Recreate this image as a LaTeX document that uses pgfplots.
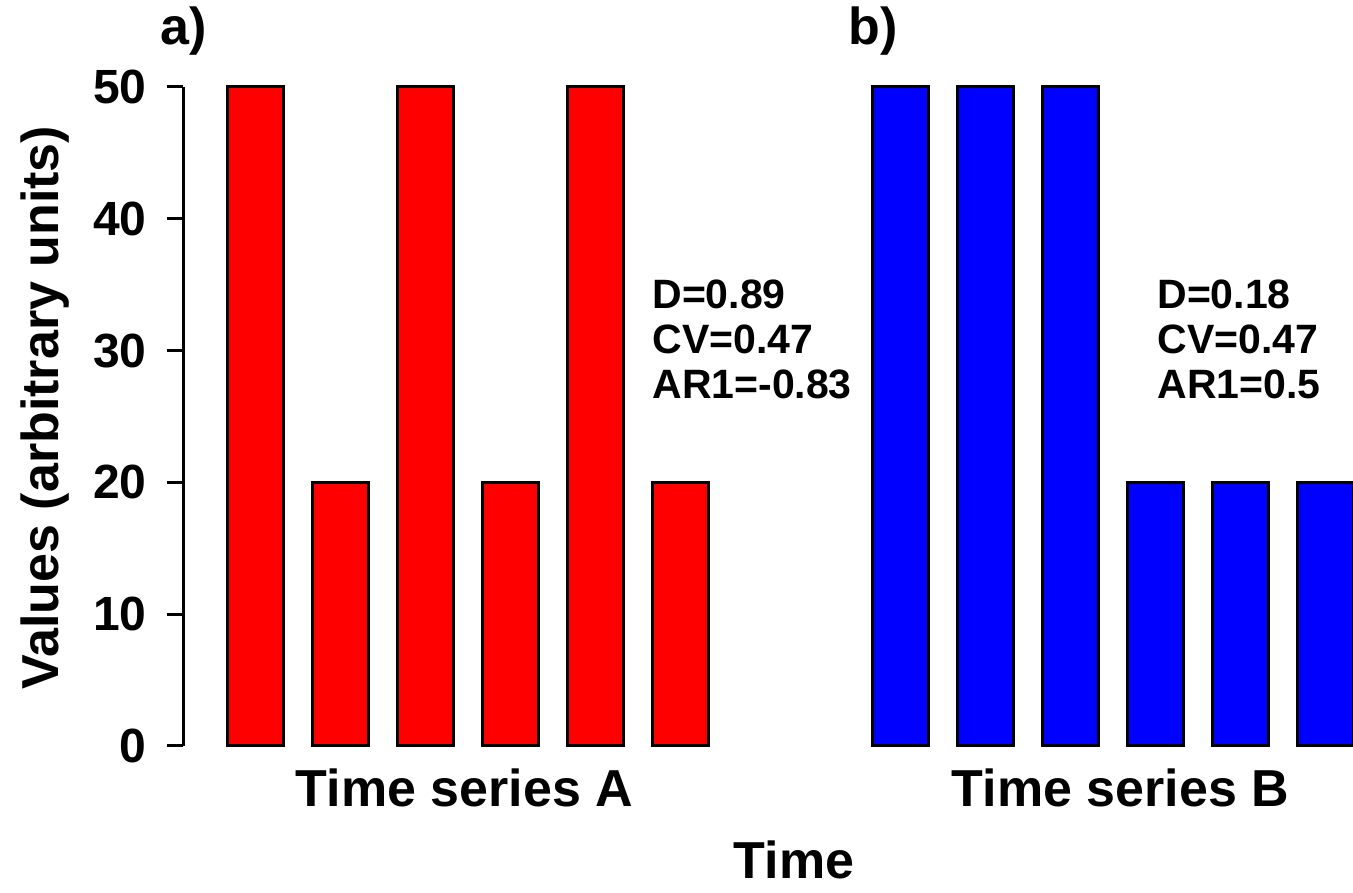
\documentclass[border=0pt]{standalone}
\usepackage{fontspec}
\setmainfont{Liberation Sans}
\usepackage{pgfplots}
\pgfplotsset{compat=1.18}
\definecolor{barred}{RGB}{255,0,0}
\definecolor{barblue}{RGB}{0,0,255}

% one pixel of the reference = 0.5pt
\pgfplotsset{
  tsbars/.style={
    x=28.333pt, y=6.59pt,
    xmin=-0.28, xmax=10, ymin=0, ymax=50,
    anchor=south west, clip=false,
    ybar, bar width=1,
  },
  barstyle/.style={fill=#1, draw=black, line width=1.5pt, line join=miter},
}
\newcommand{\labfont}{\fontsize{26}{31}\selectfont\bfseries}
\newcommand{\annfont}{\fontsize{20.5}{25}\selectfont\bfseries}

\begin{document}
\begin{tikzpicture}
\path[use as bounding box] (0,0) rectangle (676.5pt,446.5pt);

% panel a
\begin{axis}[tsbars, at={(91.5pt,73.5pt)},
  axis x line=none, axis y line*=left,
  axis line style={line width=1.5pt,-},
  ytick={0,10,20,30,40,50}, tick align=outside, major tick length=8pt,
  ytick style={line width=1.5pt, black},
  yticklabel style={font=\fontsize{24}{29}\selectfont\bfseries, anchor=east, inner sep=0pt, xshift=-10pt},
  /pgf/number format/assume math mode=true,
]
\addplot[barstyle=barred] coordinates {(1,50) (2.5,20) (4,50) (5.5,20) (7,50) (8.5,20)};
\end{axis}

% panel b
\begin{axis}[tsbars, at={(414pt,73.5pt)}, hide axis]
\addplot[barstyle=barblue] coordinates {(1,50) (2.5,50) (4,50) (5.5,20) (7,20) (8.5,20)};
\end{axis}

% texts
\node[anchor=base west, inner sep=0pt, font=\labfont] at (80pt,424pt) {a)};
\node[anchor=base west, inner sep=0pt, font=\labfont] at (424pt,424pt) {b)};
\node[anchor=base, inner sep=0pt, font=\labfont] at (232.25pt,43pt) {Time series A};
\node[anchor=base, inner sep=0pt, font=\labfont] at (560.25pt,43pt) {Time series B};
\node[anchor=base, inner sep=0pt, font=\labfont] at (397pt,7pt) {Time};
\node[rotate=90, inner sep=0pt, font=\labfont] at (22.5pt,242.75pt) {Values (arbitrary units)};

\node[anchor=base west, inner sep=0pt, font=\annfont] at (326pt,292pt) {D=0.89};
\node[anchor=base west, inner sep=0pt, font=\annfont] at (326pt,269.5pt) {CV=0.47};
\node[anchor=base west, inner sep=0pt, font=\annfont] at (326pt,247pt) {AR1=-0.83};
\node[anchor=base west, inner sep=0pt, font=\annfont] at (578.5pt,292pt) {D=0.18};
\node[anchor=base west, inner sep=0pt, font=\annfont] at (578.5pt,269.5pt) {CV=0.47};
\node[anchor=base west, inner sep=0pt, font=\annfont] at (578.5pt,247pt) {AR1=0.5};
\end{tikzpicture}
\end{document}
